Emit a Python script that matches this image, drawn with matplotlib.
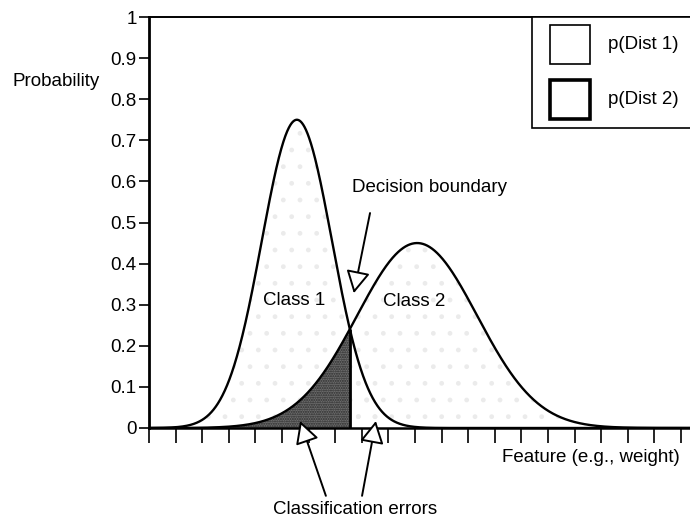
import numpy as np
import matplotlib.pyplot as plt
from matplotlib.patches import Rectangle

plt.rcParams['font.family'] = ['Liberation Sans', 'DejaVu Sans']
plt.rcParams['font.size'] = 13.5

# Two class-conditional distributions: peak height, centre and spread (feature units)
class_names = ['Class 1', 'Class 2']
peaks = [0.75, 0.45]
centres = [5.56, 10.08]
spreads = [1.32, 2.26]

legend_labels = ['p(Dist 1)', 'p(Dist 2)']
y_ticks = [0, 0.1, 0.2, 0.3, 0.4, 0.5, 0.6, 0.7, 0.8, 0.9, 1]
y_ticklabels = ['0', '0.1', '0.2', '0.3', '0.4', '0.5', '0.6', '0.7', '0.8', '0.9', '1']
x_ticks = list(range(0, 21))
x_max = 20.34


def curve(x, peak, centre, spread):
    return peak * np.exp(-(x - centre) ** 2 / (2 * spread ** 2))


# decision boundary = where the two curves cross between the centres
xs = np.linspace(centres[0], centres[1], 20001)
diff = curve(xs, peaks[0], centres[0], spreads[0]) - curve(xs, peaks[1], centres[1], spreads[1])
xb = xs[np.argmin(np.abs(diff))]
yb = curve(xb, peaks[1], centres[1], spreads[1])

x = np.sort(np.append(np.linspace(0, x_max, 3000), xb))
y1 = curve(x, peaks[0], centres[0], spreads[0])
y2 = curve(x, peaks[1], centres[1], spreads[1])

fig = plt.figure(figsize=(6.9, 5.2), dpi=100)
ax = fig.add_axes([149 / 690, 92 / 520, 541 / 690, 411 / 520])

# faint stipple under both curves
ax.fill_between(x, y1, facecolor='none', edgecolor='#ebebeb', hatch='.', lw=0)
ax.fill_between(x, y2, facecolor='none', edgecolor='#ebebeb', hatch='.', lw=0)

# misclassified part of class 2 (left of the boundary)
ax.fill_between(x, y2, where=x <= xb, facecolor='#6e6e6e', edgecolor='#2a2a2a',
                hatch='.......', lw=0)
ax.vlines(xb, 0, yb, color='k', lw=2)

ax.plot(x, y1, color='k', lw=1.7)
ax.plot(x, y2, color='k', lw=1.7)

ax.set_xlim(0, x_max)
ax.set_ylim(0, 1)
ax.set_yticks(y_ticks)
ax.set_yticklabels(y_ticklabels)
ax.set_xticks(x_ticks)
ax.set_xticklabels([])
ax.tick_params(axis='y', direction='out', length=7, width=1.2, pad=2)
ax.tick_params(axis='x', direction='out', length=11, width=1.2)
ax.spines['right'].set_visible(False)
ax.spines['left'].set_linewidth(2)
ax.spines['bottom'].set_linewidth(1.8)
ax.spines['top'].set_linewidth(1.4)

# labels inside the curves
ax.text(5.45, 0.311, class_names[0], ha='center', va='center')
ax.text(9.96, 0.307, class_names[1], ha='center', va='center')

arrow = dict(arrowstyle='-|>,head_length=0.65,head_width=0.35', fc='white', ec='k',
             lw=1.4, mutation_scale=21, shrinkA=0, shrinkB=0)
ax.text(10.56, 0.586, 'Decision boundary', ha='center', va='center')
ax.annotate('', xy=(xb + 0.15, 0.328), xytext=(8.31, 0.523), arrowprops=arrow)

ax.annotate('', xy=(5.68, 0.017), xytext=(6.65, -0.165), arrowprops=arrow,
            annotation_clip=False)
ax.annotate('', xy=(8.53, 0.017), xytext=(8.01, -0.165), arrowprops=arrow,
            annotation_clip=False)

ax.text(19.96, -0.071, 'Feature (e.g., weight)', ha='right', va='center', clip_on=False)
fig.text(13 / 690, 1 - 82 / 520, 'Probability', ha='left', va='center')
fig.text(355 / 690, 1 - 509 / 520, 'Classification errors', ha='center', va='center')

# legend box, drawn by hand so it runs off the right edge
ax.add_patch(Rectangle((0.708, 0.730), 0.35, 0.27, transform=ax.transAxes,
                       facecolor='white', edgecolor='k', lw=1.2, clip_on=False, zorder=5))
for i, (lab, lw) in enumerate(zip(legend_labels, [1.2, 2.6])):
    yb_box = 0.886 - i * 0.134
    ax.add_patch(Rectangle((0.741, yb_box), 0.074, 0.095, transform=ax.transAxes,
                           facecolor='white', edgecolor='k', lw=lw, clip_on=False, zorder=6))
    ax.text(0.848, yb_box + 0.047, lab, transform=ax.transAxes, ha='left', va='center',
            zorder=7)

fig.savefig('out.png', dpi=100)
